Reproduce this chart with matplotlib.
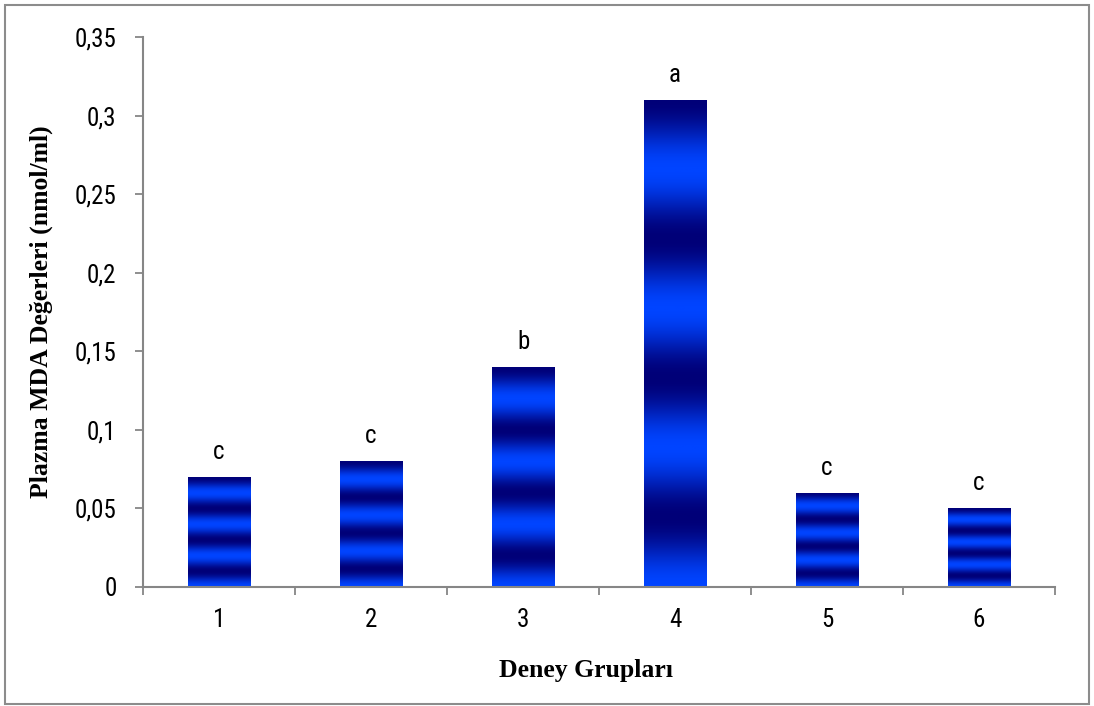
import matplotlib
matplotlib.use('Agg')
import matplotlib.pyplot as plt
import numpy as np
from matplotlib.colors import LinearSegmentedColormap
from matplotlib.patches import Rectangle

groups = ['1', '2', '3', '4', '5', '6']
mda = [0.07, 0.08, 0.14, 0.31, 0.06, 0.05]
letters = ['c', 'c', 'b', 'a', 'c', 'c']
y_ticks = [0, 0.05, 0.1, 0.15, 0.2, 0.25, 0.3, 0.35]
y_labels = ['0', '0,05', '0,1', '0,15', '0,2', '0,25', '0,3', '0,35']

tick_font = ['Roboto Condensed', 'DejaVu Sans']
title_font = ['Liberation Serif', 'DejaVu Serif']
grey = '#868686'

# striped blue fill: navy <-> bright blue
stripes = LinearSegmentedColormap.from_list('stripes', ['#000078', '#0044ff'])

fig = plt.figure(figsize=(10.94, 7.06), dpi=100)
ax = fig.add_axes([0.1307, 0.1686, 0.8337, 0.779])

x = np.arange(1, len(groups) + 1)
bars = ax.bar(x, mda, width=0.41, color='none', edgecolor='none')

t = np.linspace(0, 1, 400)
for b in bars:
    bx, by = b.get_x(), b.get_y()
    bw, bh = b.get_width(), b.get_height()
    # 3.5 stripe periods per bar, bright at the bottom, dark at the top
    shade = 0.5 + 0.5 * np.cos(2 * np.pi * 3.5 * t)
    img = ax.imshow(shade[::-1].reshape(-1, 1), cmap=stripes, vmin=0, vmax=1,
                    extent=(bx, bx + bw, by, by + bh), aspect='auto',
                    interpolation='bilinear', zorder=2)
    img.set_clip_path(b)

for xi, v, s in zip(x, mda, letters):
    ax.annotate(s, (xi, v), xytext=(0, 13), textcoords='offset points',
                ha='center', va='baseline', fontsize=18, family=tick_font)

ax.set_xlim(0.5, 6.5)
ax.set_ylim(0, 0.35)
ax.set_yticks(y_ticks)
ax.set_yticklabels(y_labels, family=tick_font, fontsize=18)
ax.set_xticks(np.arange(0.5, 7, 1))
ax.set_xticklabels([])
ax.set_xticks(x, minor=True)
ax.set_xticklabels(groups, minor=True, family=tick_font, fontsize=18)
ax.tick_params(axis='x', which='minor', length=0, pad=15)
ax.tick_params(axis='x', which='major', length=6, color=grey, width=1.3)
ax.tick_params(axis='y', length=6, color=grey, width=1.3, pad=13)

for side in ['top', 'right']:
    ax.spines[side].set_visible(False)
for side in ['left', 'bottom']:
    ax.spines[side].set_color(grey)
    ax.spines[side].set_linewidth(1.5)

ax.set_xlabel('Deney Grupları', family=title_font, fontweight='bold',
              fontsize=18.5)
ax.xaxis.set_label_coords(0.486, -0.131)
ax.set_ylabel('Plazma MDA Değerleri (nmol/ml)', family=title_font,
              fontweight='bold', fontsize=18.5)
ax.yaxis.set_label_coords(-0.099, 0.5)

fig.patches.append(Rectangle((5 / 1094, 2 / 706), 1084 / 1094, 699 / 706,
                             transform=fig.transFigure, fill=False,
                             edgecolor='#8c8c8c', linewidth=1.5))

fig.savefig('out.png', dpi=100)
